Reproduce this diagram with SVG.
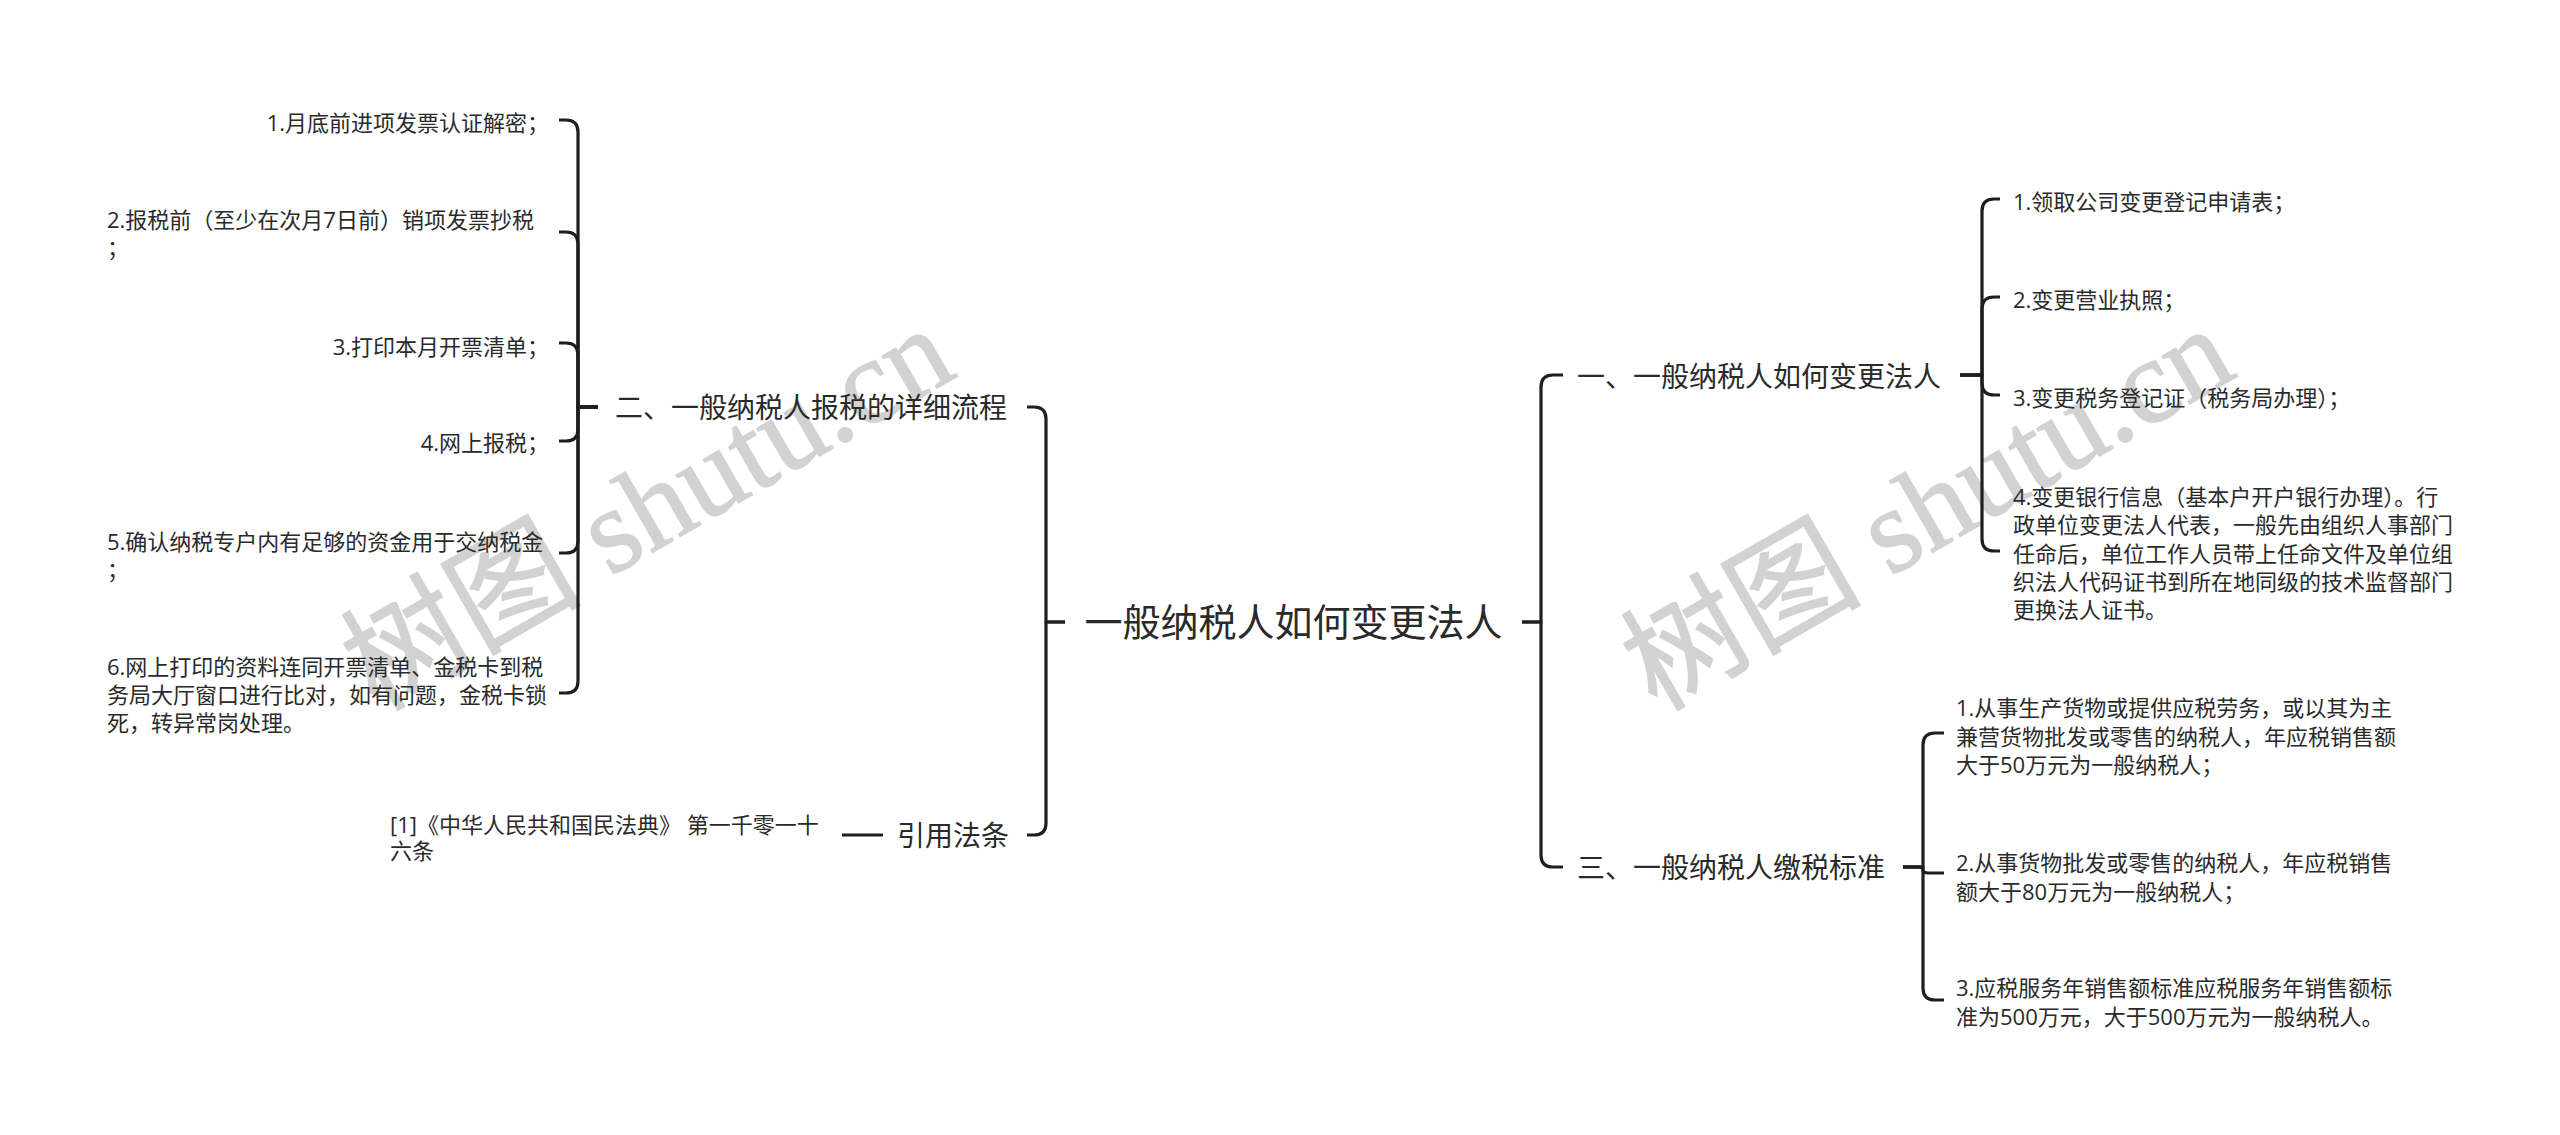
<svg xmlns="http://www.w3.org/2000/svg" width="2560" height="1135" viewBox="0 0 2560 1135">
<style>
.wm{font-family:"Liberation Serif","Noto Sans CJK SC",serif;font-size:120px;fill:#d2d2d2;stroke:#d2d2d2;stroke-width:1.5}
.t{font-family:"Open Sans","Noto Sans CJK SC",sans-serif;font-size:22px;fill:#2a2a2a}
.b{font-family:"Open Sans","Noto Sans CJK SC",sans-serif;font-size:28px;fill:#2a2a2a}
.c{font-family:"Open Sans","Noto Sans CJK SC",sans-serif;font-size:38px;fill:#2a2a2a}
.ln{fill:none;stroke:#1e1e1e;stroke-width:3.2;stroke-linecap:butt;stroke-linejoin:round}
</style>
<rect width="2560" height="1135" fill="#ffffff"/>
<g id="watermarks">
<text class="wm" transform="translate(376,712) rotate(-30)">树图 shutu.cn</text>
<text class="wm" transform="translate(1656,712) rotate(-30)">树图 shutu.cn</text>
</g>
<g id="connectors">
<path class="ln" d="M1065 622 H1046 V419 Q1046 407 1034 407 H1027"/>
<path class="ln" d="M1065 622 H1046 V823 Q1046 835 1034 835 H1027"/>
<path class="ln" d="M1522 622 H1541 V387 Q1541 375 1553 375 H1563"/>
<path class="ln" d="M1522 622 H1541 V855 Q1541 867 1553 867 H1563"/>
<path class="ln" d="M598 407 H578 V132 Q578 120 566 120 H559"/>
<path class="ln" d="M598 407 H578 V244 Q578 232 566 232 H559"/>
<path class="ln" d="M598 407 H578 V355 Q578 343 566 343 H559"/>
<path class="ln" d="M598 407 H578 V429 Q578 441 566 441 H559"/>
<path class="ln" d="M598 407 H578 V541 Q578 553 566 553 H559"/>
<path class="ln" d="M598 407 H578 V681 Q578 693 566 693 H559"/>
<path class="ln" d="M883 835 H842"/>
<path class="ln" d="M1960 375 H1982 V211 Q1982 199 1994 199 H2000"/>
<path class="ln" d="M1960 375 H1982 V309 Q1982 297 1994 297 H2000"/>
<path class="ln" d="M1960 375 H1982 V383 Q1982 395 1994 395 H2000"/>
<path class="ln" d="M1960 375 H1982 V539 Q1982 551 1994 551 H2000"/>
<path class="ln" d="M1903 867 H1923 V745 Q1923 733 1935 733 H1944"/>
<path class="ln" d="M1903 867 H1918 Q1923 867 1923 870 Q1923 873 1928 873 H1944"/>
<path class="ln" d="M1903 867 H1923 V988 Q1923 1000 1935 1000 H1944"/>
</g>
<g id="root"><text class="c" x="1293.5" y="636" text-anchor="middle">一般纳税人如何变更法人</text></g>
<g id="n2"><text class="b" x="615" y="417.5">二、一般纳税人报税的详细流程</text></g>
<g id="n2c1"><text class="t" x="549" y="131" text-anchor="end">1.月底前进项发票认证解密；</text></g>
<g id="n2c2"><text class="t" x="107" y="228">2.报税前（至少在次月7日前）销项发票抄税</text><text class="t" x="107" y="256">；</text></g>
<g id="n2c3"><text class="t" x="549" y="355" text-anchor="end">3.打印本月开票清单；</text></g>
<g id="n2c4"><text class="t" x="549" y="451" text-anchor="end">4.网上报税；</text></g>
<g id="n2c5"><text class="t" x="107" y="550">5.确认纳税专户内有足够的资金用于交纳税金</text><text class="t" x="107" y="578">；</text></g>
<g id="n2c6"><text class="t" x="107" y="675">6.网上打印的资料连同开票清单、金税卡到税</text><text class="t" x="107" y="703">务局大厅窗口进行比对，如有问题，金税卡锁</text><text class="t" x="107" y="731">死，转异常岗处理。</text></g>
<g id="nref"><text class="b" x="897" y="845.5">引用法条</text></g>
<g id="nrefc1"><text class="t" x="390" y="833">[1]《中华人民共和国民法典》 第一千零一十</text><text class="t" x="390" y="859">六条</text></g>
<g id="n1"><text class="b" x="1577" y="386.5">一、一般纳税人如何变更法人</text></g>
<g id="n1c1"><text class="t" x="2013" y="210">1.领取公司变更登记申请表；</text></g>
<g id="n1c2"><text class="t" x="2013" y="308">2.变更营业执照；</text></g>
<g id="n1c3"><text class="t" x="2013" y="406">3.变更税务登记证（税务局办理）；</text></g>
<g id="n1c4"><text class="t" x="2013" y="505">4.变更银行信息（基本户开户银行办理）。行</text><text class="t" x="2013" y="533.3">政单位变更法人代表，一般先由组织人事部门</text><text class="t" x="2013" y="561.5">任命后，单位工作人员带上任命文件及单位组</text><text class="t" x="2013" y="589.8">织法人代码证书到所在地同级的技术监督部门</text><text class="t" x="2013" y="618">更换法人证书。</text></g>
<g id="n3"><text class="b" x="1577" y="877.5">三、一般纳税人缴税标准</text></g>
<g id="n3c1"><text class="t" x="1956" y="716">1.从事生产货物或提供应税劳务，或以其为主</text><text class="t" x="1956" y="744.5">兼营货物批发或零售的纳税人，年应税销售额</text><text class="t" x="1956" y="773">大于50万元为一般纳税人；</text></g>
<g id="n3c2"><text class="t" x="1956" y="871">2.从事货物批发或零售的纳税人，年应税销售</text><text class="t" x="1956" y="900">额大于80万元为一般纳税人；</text></g>
<g id="n3c3"><text class="t" x="1956" y="996">3.应税服务年销售额标准应税服务年销售额标</text><text class="t" x="1956" y="1025">准为500万元，大于500万元为一般纳税人。</text></g>
</svg>
